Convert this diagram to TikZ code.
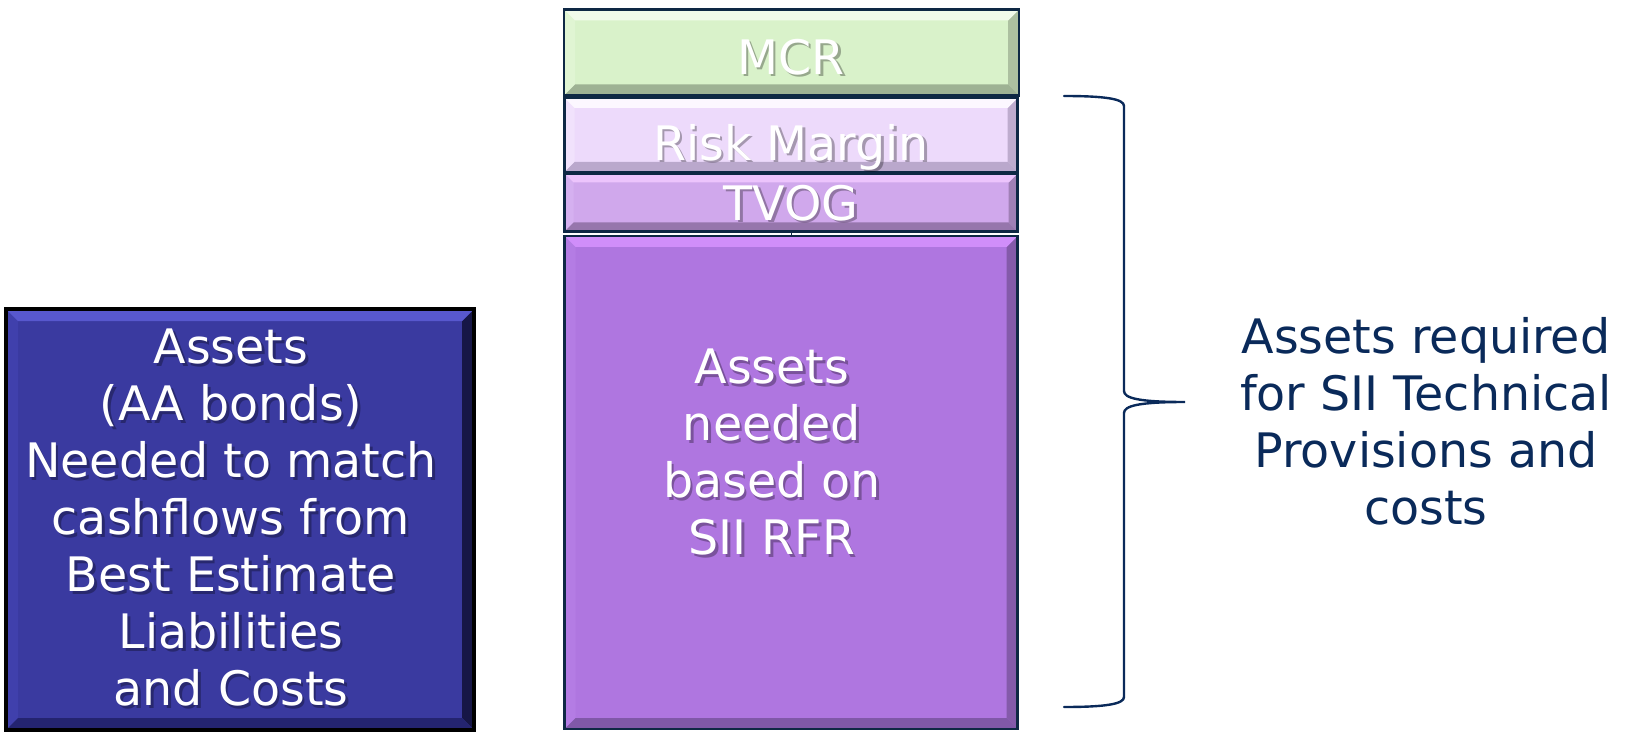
\documentclass[tikz,border=0pt]{standalone}
\usepackage{fontspec}
\setmainfont{DejaVu Sans}
\usetikzlibrary{calc}

% palette
\definecolor{navy}{RGB}{10,42,90}
\definecolor{edge}{RGB}{14,40,68}
\definecolor{mcrFill}{RGB}{217,242,202}
\definecolor{mcrTop}{RGB}{241,251,234}
\definecolor{mcrLeft}{RGB}{224,245,211}
\definecolor{mcrBot}{RGB}{158,178,148}
\definecolor{mcrRight}{RGB}{172,192,160}
\definecolor{rmFill}{RGB}{237,218,251}
\definecolor{rmTop}{RGB}{252,247,255}
\definecolor{rmLeft}{RGB}{241,226,252}
\definecolor{rmBot}{RGB}{186,168,204}
\definecolor{rmRight}{RGB}{190,172,206}
\definecolor{tvFill}{RGB}{208,168,236}
\definecolor{tvTop}{RGB}{236,196,252}
\definecolor{tvLeft}{RGB}{213,176,240}
\definecolor{tvBot}{RGB}{150,118,172}
\definecolor{tvRight}{RGB}{160,128,182}
\definecolor{mnFill}{RGB}{175,118,224}
\definecolor{mnTop}{RGB}{208,142,250}
\definecolor{mnLeft}{RGB}{180,124,228}
\definecolor{mnBot}{RGB}{128,88,168}
\definecolor{mnRight}{RGB}{132,90,170}
\definecolor{aaFill}{RGB}{58,58,160}
\definecolor{aaTop}{RGB}{88,88,206}
\definecolor{aaLeft}{RGB}{64,64,172}
\definecolor{aaBot}{RGB}{36,36,112}
\definecolor{aaRight}{RGB}{22,22,70}

% four bevel faces inside a rectangular node: depth, top, bottom, left, right
\newcommand\bevelfaces[5]{%
  \path (path picture bounding box.north west) coordinate (b-nw)
        (path picture bounding box.north east) coordinate (b-ne)
        (path picture bounding box.south west) coordinate (b-sw)
        (path picture bounding box.south east) coordinate (b-se);
  \fill[#4] (b-nw) -- ([shift={(#1,-#1)}]b-nw) -- ([shift={(#1,#1)}]b-sw) -- (b-sw) -- cycle;
  \fill[#5] (b-ne) -- ([shift={(-#1,-#1)}]b-ne) -- ([shift={(-#1,#1)}]b-se) -- (b-se) -- cycle;
  \fill[#2] (b-nw) -- (b-ne) -- ([shift={(-#1,-#1)}]b-ne) -- ([shift={(#1,-#1)}]b-nw) -- cycle;
  \fill[#3] (b-sw) -- (b-se) -- ([shift={(-#1,#1)}]b-se) -- ([shift={(#1,#1)}]b-sw) -- cycle;
}

% white label with a soft drop shadow: name, position, options, text
\newcommand\shadowed[4]{%
  \node[txt, #3, text=black, opacity=0.3] (#1-sh) at ([shift={(2.5pt,-2.5pt)}]#2) {#4};
  \node[txt, #3] (#1) at (#2) {#4};
}

\tikzset{
  block/.style={draw=edge, line width=2.5pt, inner sep=0pt, outer sep=0pt},
  bigfont/.style={font=\fontsize{47.5}{57}\selectfont},
  txt/.style={bigfont, text=white, align=center, inner sep=0pt, outer sep=0pt},
  brace/.style={draw=navy, line width=2.4pt, line cap=round},
}

\begin{document}
\begin{tikzpicture}[x=1pt, y=-1pt]
\useasboundingbox (0,0) rectangle (1632,735);

% left block: matching assets
\node[block, draw=black, line width=3.5pt, fill=aaFill,
      minimum width=468pt, minimum height=421pt,
      path picture={\bevelfaces{12pt}{aaTop}{aaBot}{aaLeft}{aaRight}}]
      (aa) at (240,519.5) {};

% stacked column
\node[block, fill=mcrFill, minimum width=455pt, minimum height=86pt,
      path picture={\bevelfaces{11pt}{mcrTop}{mcrBot}{mcrLeft}{mcrRight}}]
      (mcr) at (791.5,52.5) {};
\node[block, fill=rmFill, minimum width=453pt, minimum height=74pt,
      path picture={\bevelfaces{10pt}{rmTop}{rmBot}{rmLeft}{rmRight}}]
      (rm) at (791,135) {};
\node[block, fill=tvFill, minimum width=453pt, minimum height=58pt,
      path picture={\bevelfaces{9pt}{tvTop}{tvBot}{tvLeft}{tvRight}}]
      (tvog) at (791,202.5) {};
\node[block, fill=mnFill, minimum width=453pt, minimum height=493pt,
      path picture={\bevelfaces{11pt}{mnTop}{mnBot}{mnLeft}{mnRight}}]
      (main) at (791,482.5) {};
\draw[edge, line width=1pt] (tvog.south) -- (main.north);

% labels inside the blocks
\shadowed{aa-t}{231,518}{anchor=center}{Assets\\(AA bonds)\\Needed to match\\cashflows from\\Best Estimate\\Liabilities\\and Costs}
\shadowed{mcr-t}{791,74.3}{anchor=base}{MCR}
\shadowed{rm-t}{791,160.3}{anchor=base}{Risk Margin}
\shadowed{tvog-t}{791,220.3}{anchor=base}{TVOG}
\shadowed{main-t}{772,452.5}{anchor=center}{Assets\\needed\\based on\\SII RFR}

% brace spanning the technical provisions
\coordinate (br-top) at (1064,96);
\coordinate (br-tip) at (1185,402);
\coordinate (br-bot) at (1064,707);
\draw[brace] (br-top) .. controls (1106,96) and (1124,99) .. (1124,106)
  -- (1124,391) .. controls (1124,398) and (1138,402) .. (br-tip)
  .. controls (1138,402) and (1124,406) .. (1124,413)
  -- (1124,697) .. controls (1124,704) and (1106,707) .. (br-bot);

\node[bigfont, text=navy, align=center, inner sep=0pt] (req) at (1426,421.6)
  {Assets required\\for SII Technical\\Provisions and\\costs};
\end{tikzpicture}
\end{document}
